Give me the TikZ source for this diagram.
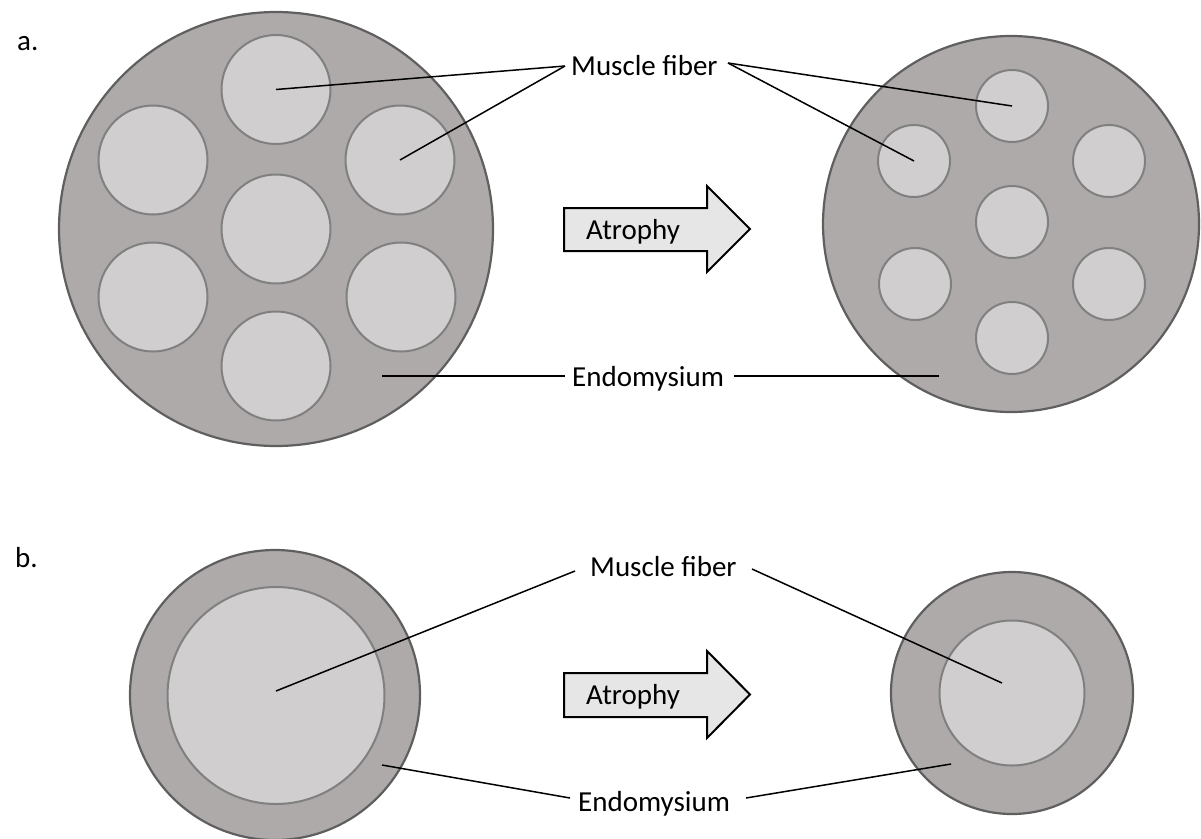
\documentclass[tikz,border=0pt]{standalone}
\usepackage{fontspec}
\setmainfont{Carlito}
\definecolor{outline}{HTML}{5F5F5F}
\definecolor{outerfill}{HTML}{AEAAAA}
\definecolor{innerline}{HTML}{808080}
\definecolor{innerfill}{HTML}{D0CECE}
\definecolor{arrowfill}{HTML}{E7E6E6}
\begin{document}
\begin{tikzpicture}[x=1pt,y=-1pt,
  outerc/.style={circle,draw=outline,fill=outerfill,line width=2.2pt,inner sep=0pt,outer sep=0pt},
  innerc/.style={circle,draw=innerline,fill=innerfill,line width=2pt,inner sep=0pt,outer sep=0pt},
  lead/.style={draw=black,line width=1.5pt},
  lbl/.style={anchor=base west,inner sep=0pt,font=\fontsize{29}{34}\selectfont},
  arrowshape/.style={draw=black,fill=arrowfill,line width=2pt,line join=miter}]
\useasboundingbox (0,0) rectangle (1201,838);

% ---------- panel a, left ----------
\node[outerc,minimum size=434pt] (oa) at (276,229) {};
\foreach \n/\x/\y in {t/276/89.5,ul/153/160,ur/400/160,c/276/229,ll/153/297,lr/401/297,b/276/366}
  \node[innerc,minimum size=109pt] (a\n) at (\x,\y) {};

% ---------- panel a, right ----------
\node[outerc,minimum size=376pt] (ob) at (1011,224) {};
\foreach \n/\x/\y in {t/1012/106,ul/914/161,ur/1109/161,c/1012/222,ll/915/284,lr/1109/284,b/1012/338}
  \node[innerc,minimum size=72pt] (b\n) at (\x,\y) {};

% ---------- panel b ----------
\node[outerc,minimum size=290pt] (oc) at (275,695) {};
\node[innerc,minimum size=217pt] (cin) at (276,695.5) {};
\node[outerc,minimum size=242pt] (od) at (1012,693) {};
\node[innerc,minimum size=145pt] (din) at (1012,693) {};

% ---------- labels ----------
\node[lbl] (la) at (17,50) {a.};
\node[lbl] (lb) at (15,567) {b.};
\node[lbl] (mfa) at (571,75) {Muscle fiber};
\node[lbl] (ena) at (572,386) {Endomysium};
\node[lbl] (mfb) at (590,576) {Muscle fiber};
\node[lbl] (enb) at (578,811) {Endomysium};

% ---------- arrows ----------
\draw[arrowshape] (564,208) -- (707,208) -- (707,186) -- (750,229) -- (707,272) -- (707,251) -- (564,251) -- cycle;
\node[lbl] (ata) at (586,239) {Atrophy};
\draw[arrowshape] (564,673) -- (707,673) -- (707,651) -- (750,694.5) -- (707,738) -- (707,717) -- (564,717) -- cycle;
\node[lbl] (atb) at (586,704) {Atrophy};

% ---------- leader lines ----------
\coordinate (mfaL) at (565,66);
\coordinate (mfaR) at (728,63);
\coordinate (enaL) at (565,376);
\coordinate (enaR) at (734,376);
\coordinate (eaIn) at (382,376);
\coordinate (ebIn) at (939,376);
\coordinate (mfbL) at (575,571);
\coordinate (mfbR) at (752,569);
\coordinate (enbL) at (570,798);
\coordinate (enbR) at (746,798);
\coordinate (ecIn) at (382,765);
\coordinate (edIn) at (951,764);
\coordinate (dEnd) at (1002,683);
\coordinate (cEnd) at (276,691);

\draw[lead] (mfaL) -- (at.center);
\draw[lead] (mfaL) -- (aur.center);
\draw[lead] (mfaR) -- (bt.center);
\draw[lead] (mfaR) -- (bul.center);
\draw[lead] (enaL) -- (eaIn);
\draw[lead] (enaR) -- (ebIn);
\draw[lead] (mfbL) -- (cEnd);
\draw[lead] (mfbR) -- (dEnd);
\draw[lead] (enbL) -- (ecIn);
\draw[lead] (enbR) -- (edIn);
\end{tikzpicture}
\end{document}
